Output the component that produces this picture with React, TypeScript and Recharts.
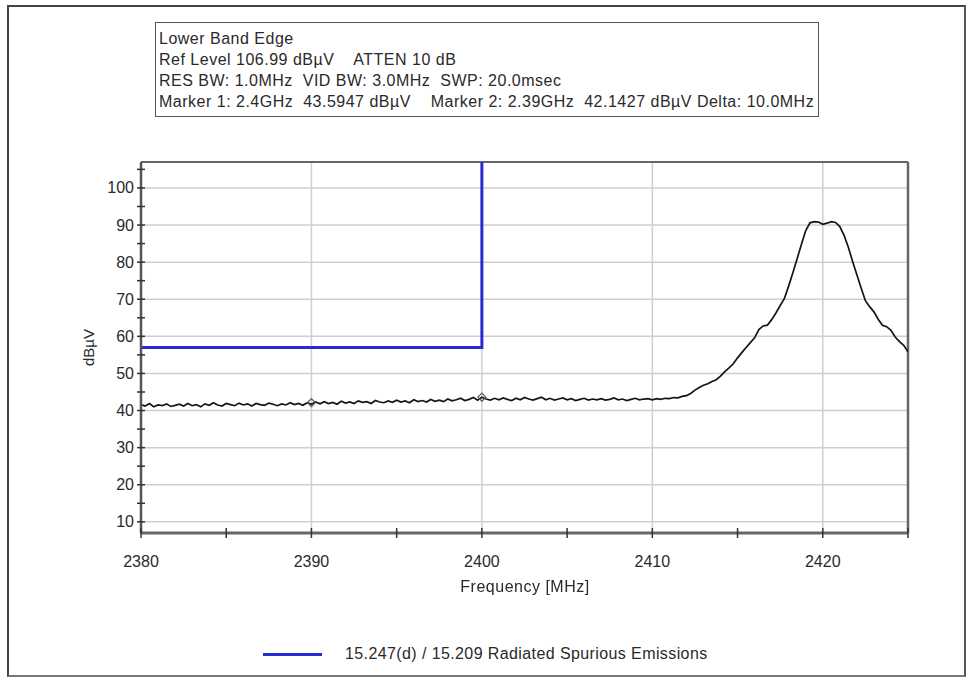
import React from "react";
import {
  ComposedChart,
  Line,
  Scatter,
  XAxis,
  YAxis,
  ReferenceLine,
} from "recharts";

// sweep grid of the analyzer trace
const SWEEP_START = 2380;
const SWEEP_STEP = 0.25;

// trace levels in dBµV, one per sweep point (2380 ... 2425 MHz)
const TRACE_LEVELS = [
  41.6, 41.2, 41.9, 41.0, 41.5, 41.3, 41.8, 41.1, 41.4, 41.7, 41.2, 41.9,
  41.3, 41.6, 41.0, 41.8, 41.4, 42.1, 41.5, 41.2, 41.9, 41.6, 41.3, 42.0,
  41.5, 41.8, 41.2, 41.9, 41.6, 41.4, 42.0, 41.7, 41.3, 41.8, 41.5, 42.1,
  41.6, 41.9, 41.4, 42.1, 41.7, 42.3, 41.8, 42.4, 41.9, 42.2, 41.7, 42.5,
  42.0, 42.3, 41.9, 42.6, 42.2, 42.4, 41.9, 42.7, 42.3, 42.1, 42.6, 42.2,
  42.8, 42.3, 42.6, 42.1, 42.9, 42.4, 42.7, 42.3, 43.0, 42.5, 42.8, 42.4,
  43.1, 42.6, 42.9, 43.3, 42.7, 43.0, 43.5, 42.8, 43.6, 43.1, 42.8, 43.3,
  42.9, 43.4, 43.0, 42.7, 43.3, 42.9, 43.5, 43.1, 42.8, 43.2, 43.6, 42.9,
  43.3, 42.8, 43.1, 43.4, 42.9, 43.2, 42.7, 43.0, 43.3, 42.8, 43.1, 42.9,
  43.2, 42.8, 43.0, 43.4, 42.9, 43.1, 42.7, 43.0, 43.3, 42.9, 43.1, 43.2,
  42.9, 43.2, 43.0, 43.3, 43.2, 43.5, 43.4, 43.8,
  44.0, 44.6, 45.5, 46.2, 46.8, 47.2, 47.8, 48.3,
  49.3, 50.5, 51.5, 52.6, 54.2, 55.6, 57.0, 58.3,
  59.6, 61.8, 62.8, 63.0, 64.5, 66.3, 68.3, 70.2,
  73.6, 77.2, 81.0, 84.8, 88.5, 90.6, 90.9, 90.8,
  90.2, 90.5, 90.9, 90.7, 89.6, 87.2, 84.0, 80.2,
  76.6, 73.0, 69.6, 68.0, 66.6, 64.6, 63.0, 62.6,
  61.6, 59.8, 58.6, 57.6, 55.8,
];

// 15.247(d) / 15.209 limit
const LIMIT_FREQ = [2380, 2400, 2400];
const LIMIT_LEVEL = [57, 57, 120];

// analyzer markers
const MARKER_FREQ = [2390, 2400];
const MARKER_LEVEL = [42.1427, 43.5947];

const X_MAJOR = [2380, 2390, 2400, 2410, 2420];
const X_TICKS = [2380, 2385, 2390, 2395, 2400, 2405, 2410, 2415, 2420, 2425];
const Y_MAJOR = [10, 20, 30, 40, 50, 60, 70, 80, 90, 100];
const Y_TICKS = [10, 15, 20, 25, 30, 35, 40, 45, 50, 55, 60, 65, 70, 75, 80, 85, 90, 95, 100, 105];
const X_DOMAIN = [2380, 2425];
const Y_DOMAIN = [6.99, 106.99];

const HEADER_LINES = [
  "Lower Band Edge",
  "Ref Level 106.99 dBµV    ATTEN 10 dB",
  "RES BW: 1.0MHz  VID BW: 3.0MHz  SWP: 20.0msec",
  "Marker 1: 2.4GHz  43.5947 dBµV    Marker 2: 2.39GHz  42.1427 dBµV Delta: 10.0MHz",
];

const FONT = "'Liberation Sans', Arial, sans-serif";
const TEXT = "#2a2a2a";

const traceData = TRACE_LEVELS.map((v, i) => ({ f: SWEEP_START + i * SWEEP_STEP, v }));
const limitData = LIMIT_FREQ.map((f, i) => ({ f, v: LIMIT_LEVEL[i] }));
const markerData = MARKER_FREQ.map((f, i) => ({ f, v: MARKER_LEVEL[i] }));

function YTick({ x, y, payload }: any) {
  const major = payload.value % 10 === 0;
  return (
    <g>
      <line x1={x - 4} x2={x + 4} y1={y} y2={y} stroke="#333" strokeWidth={1.5} />
      {major && (
        <text x={x - 7} y={y} dy={5.5} textAnchor="end" fontSize={16} fill={TEXT} fontFamily={FONT}>
          {payload.value}
        </text>
      )}
    </g>
  );
}

function XTick({ x, y, payload }: any) {
  const major = payload.value % 10 === 0;
  return (
    <g>
      <line x1={x} x2={x} y1={y - 5} y2={y + 5} stroke="#333" strokeWidth={1.5} />
      {major && (
        <text x={x} y={y + 34} textAnchor="middle" fontSize={16} fill={TEXT} fontFamily={FONT}>
          {payload.value}
        </text>
      )}
    </g>
  );
}

function Diamond({ cx, cy }: any) {
  const r = 4;
  return (
    <polygon
      points={`${cx},${cy - r} ${cx + r},${cy} ${cx},${cy + r} ${cx - r},${cy}`}
      fill="none"
      stroke="#555"
      strokeWidth={1.2}
    />
  );
}

export default function App() {
  return (
    <div style={{ position: "fixed", left: 0, top: 0, width: 967, height: 677, background: "#fff" }}>
      <div
        style={{
          position: "absolute",
          left: 7,
          top: 5,
          width: 955,
          height: 668,
          borderTop: "2px solid #444",
          borderLeft: "2px solid #444",
          borderRight: "2px solid #555",
          borderBottom: "2px solid #777",
        }}
      />
      <div
        style={{
          position: "absolute",
          left: 155,
          top: 22,
          width: 664,
          height: 95,
          border: "1.5px solid #555",
          fontFamily: FONT,
          fontSize: 16,
          letterSpacing: 0.5,
          color: TEXT,
          lineHeight: "21px",
          paddingLeft: 3,
          paddingTop: 5,
          boxSizing: "border-box",
          whiteSpace: "pre",
        }}
      >
        {HEADER_LINES.map((t) => (
          <div key={t}>{t}</div>
        ))}
      </div>

      <div style={{ position: "absolute", left: 0, top: 0 }}>
        <ComposedChart
          width={967}
          height={677}
          data={traceData}
          margin={{ top: 162, right: 59, bottom: 114, left: 81 }}
        >
          <XAxis
            dataKey="f"
            type="number"
            domain={X_DOMAIN}
            ticks={X_TICKS}
            interval={0}
            allowDataOverflow
            height={30}
            tickSize={0}
            tickMargin={0}
            tickLine={false}
            tick={<XTick />}
            axisLine={{ stroke: "#666", strokeWidth: 3 }}
          />
          <YAxis
            type="number"
            domain={Y_DOMAIN}
            ticks={Y_TICKS}
            interval={0}
            allowDataOverflow
            width={60}
            tickSize={0}
            tickMargin={0}
            tickLine={false}
            tick={<YTick />}
            axisLine={{ stroke: "#555", strokeWidth: 2.5 }}
            label={{
              value: "dBµV",
              angle: -90,
              position: "insideLeft",
              offset: 8,
              style: { fontFamily: FONT, fontSize: 15, fill: TEXT, textAnchor: "middle" },
            }}
          />
          {Y_MAJOR.map((v) => (
            <ReferenceLine key={`h${v}`} y={v} stroke="#cfcfcf" strokeWidth={1.5} />
          ))}
          {X_MAJOR.slice(1).map((v) => (
            <ReferenceLine key={`v${v}`} x={v} stroke="#cfcfcf" strokeWidth={1.5} />
          ))}
          <ReferenceLine y={Y_DOMAIN[1]} stroke="#666" strokeWidth={2} />
          <ReferenceLine x={X_DOMAIN[1]} stroke="#666" strokeWidth={2.5} />
          <Line
            data={limitData}
            dataKey="v"
            type="linear"
            stroke="#2a2ad4"
            strokeWidth={3}
            dot={false}
            isAnimationActive={false}
          />
          <Line
            dataKey="v"
            type="linear"
            stroke="#151515"
            strokeWidth={1.7}
            dot={false}
            isAnimationActive={false}
          />
          <Scatter data={markerData} dataKey="v" shape={<Diamond />} isAnimationActive={false} />
        </ComposedChart>
      </div>

      <div
        style={{
          position: "absolute",
          left: 0,
          top: 578,
          width: 1050,
          textAlign: "center",
          fontFamily: FONT,
          fontSize: 16,
          letterSpacing: 0.5,
          color: TEXT,
        }}
      >
        Frequency [MHz]
      </div>

      <div
        style={{
          position: "absolute",
          left: 263,
          top: 645,
          display: "flex",
          alignItems: "center",
          fontFamily: FONT,
          fontSize: 16,
          letterSpacing: 0.4,
          color: TEXT,
        }}
      >
        <div style={{ width: 59, height: 3, background: "#2a2ad4", marginRight: 23 }} />
        <span>15.247(d) / 15.209 Radiated Spurious Emissions</span>
      </div>
    </div>
  );
}
